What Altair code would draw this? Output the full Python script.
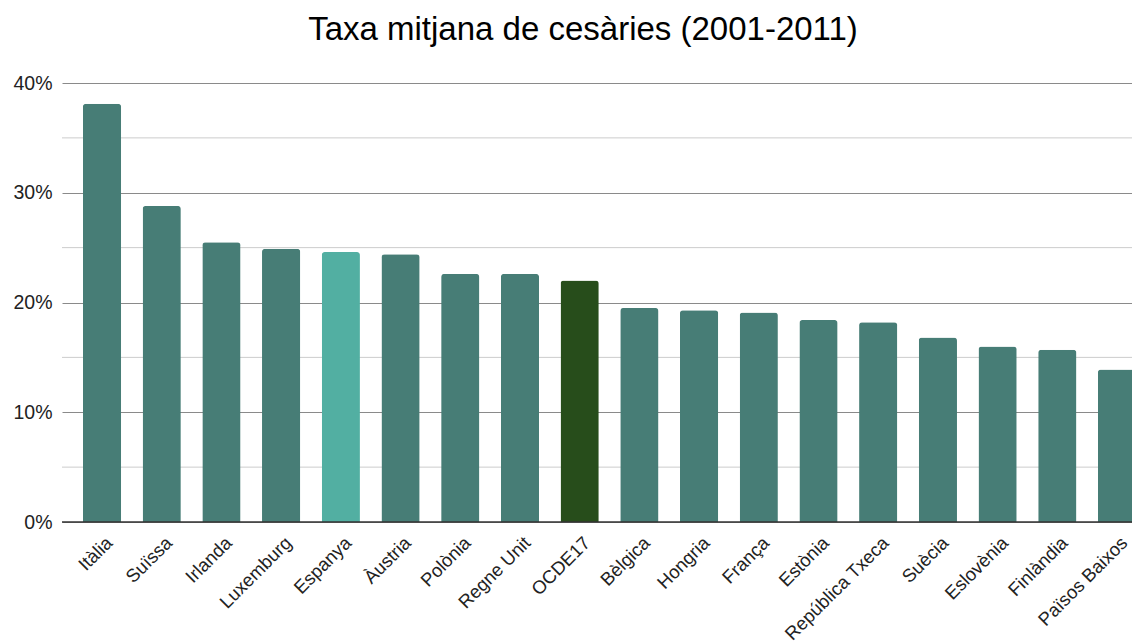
import altair as alt
import pandas as pd

countries = ["Itàlia", "Suïssa", "Irlanda", "Luxemburg", "Espanya", "Àustria", "Polònia",
             "Regne Unit", "OCDE17", "Bèlgica", "Hongria", "França", "Estònia",
             "República Txeca", "Suècia", "Eslovènia", "Finlàndia", "Països Baixos"]
rates = [0.381, 0.288, 0.255, 0.249, 0.246, 0.244, 0.226, 0.226, 0.220, 0.195, 0.193,
         0.191, 0.184, 0.182, 0.168, 0.160, 0.157, 0.139]
highlight = {"Espanya": "Espanya", "OCDE17": "OCDE17"}
major_ticks = [0.0, 0.1, 0.2, 0.3, 0.4]
minor_ticks = [0.05, 0.15, 0.25, 0.35]

df = pd.DataFrame({"country": countries, "rate": rates,
                   "group": [highlight.get(c, "altres") for c in countries]})
minor_df = pd.DataFrame({"v": minor_ticks})
zero_df = pd.DataFrame({"v": [0.0]})

FONT = "Liberation Sans"

x_enc = alt.X("country:N", sort=countries, title=None,
              scale=alt.Scale(range=[0, 1095], paddingInner=0.36, paddingOuter=0.35),
              axis=alt.Axis(labelAngle=-45, labelAlign="right", labelBaseline="top",
                            labelFontSize=18.5, labelColor="#222222", labelFont=FONT,
                            labelPadding=11, labelOffset=1, ticks=False, domain=False,
                            labelOverlap=False))
y_scale = alt.Scale(domain=[0, 0.4], nice=False)

minor = alt.Chart(minor_df).mark_rule(color="#cccccc", strokeWidth=1).encode(
    y=alt.Y("v:Q", scale=y_scale))

bars = alt.Chart(df).mark_bar(cornerRadiusTopLeft=3, cornerRadiusTopRight=3).encode(
    x=x_enc,
    y=alt.Y("rate:Q", scale=y_scale, title=None,
            axis=alt.Axis(values=major_ticks, format=".0%", labelFontSize=19.5,
                          labelColor="#222222", labelFont=FONT, labelPadding=10,
                          ticks=False, domain=False, grid=True, gridColor="#8a8a8a",
                          gridWidth=1)),
    color=alt.Color("group:N", legend=None,
                    scale=alt.Scale(domain=["altres", "Espanya", "OCDE17"],
                                    range=["#477d76", "#52afa2", "#274d1b"])))

zero = alt.Chart(zero_df).mark_rule(color="#333333", strokeWidth=1.5).encode(
    y=alt.Y("v:Q", scale=y_scale))

chart = alt.layer(minor, bars, zero).properties(
    width=1070, height=439,
    title=alt.TitleParams("Taxa mitjana de cesàries (2001-2011)", fontSize=33,
                          font=FONT, color="#000000", fontWeight="normal",
                          anchor="middle", dx=-14, offset=0, baseline="alphabetic"),
    autosize=alt.AutoSizeParams(type="none"),
    padding={"left": 54, "top": 75, "right": 0, "bottom": 120},
).configure_view(stroke=None)

chart.save("out.html", embed_options={"renderer": "svg", "actions": False})
